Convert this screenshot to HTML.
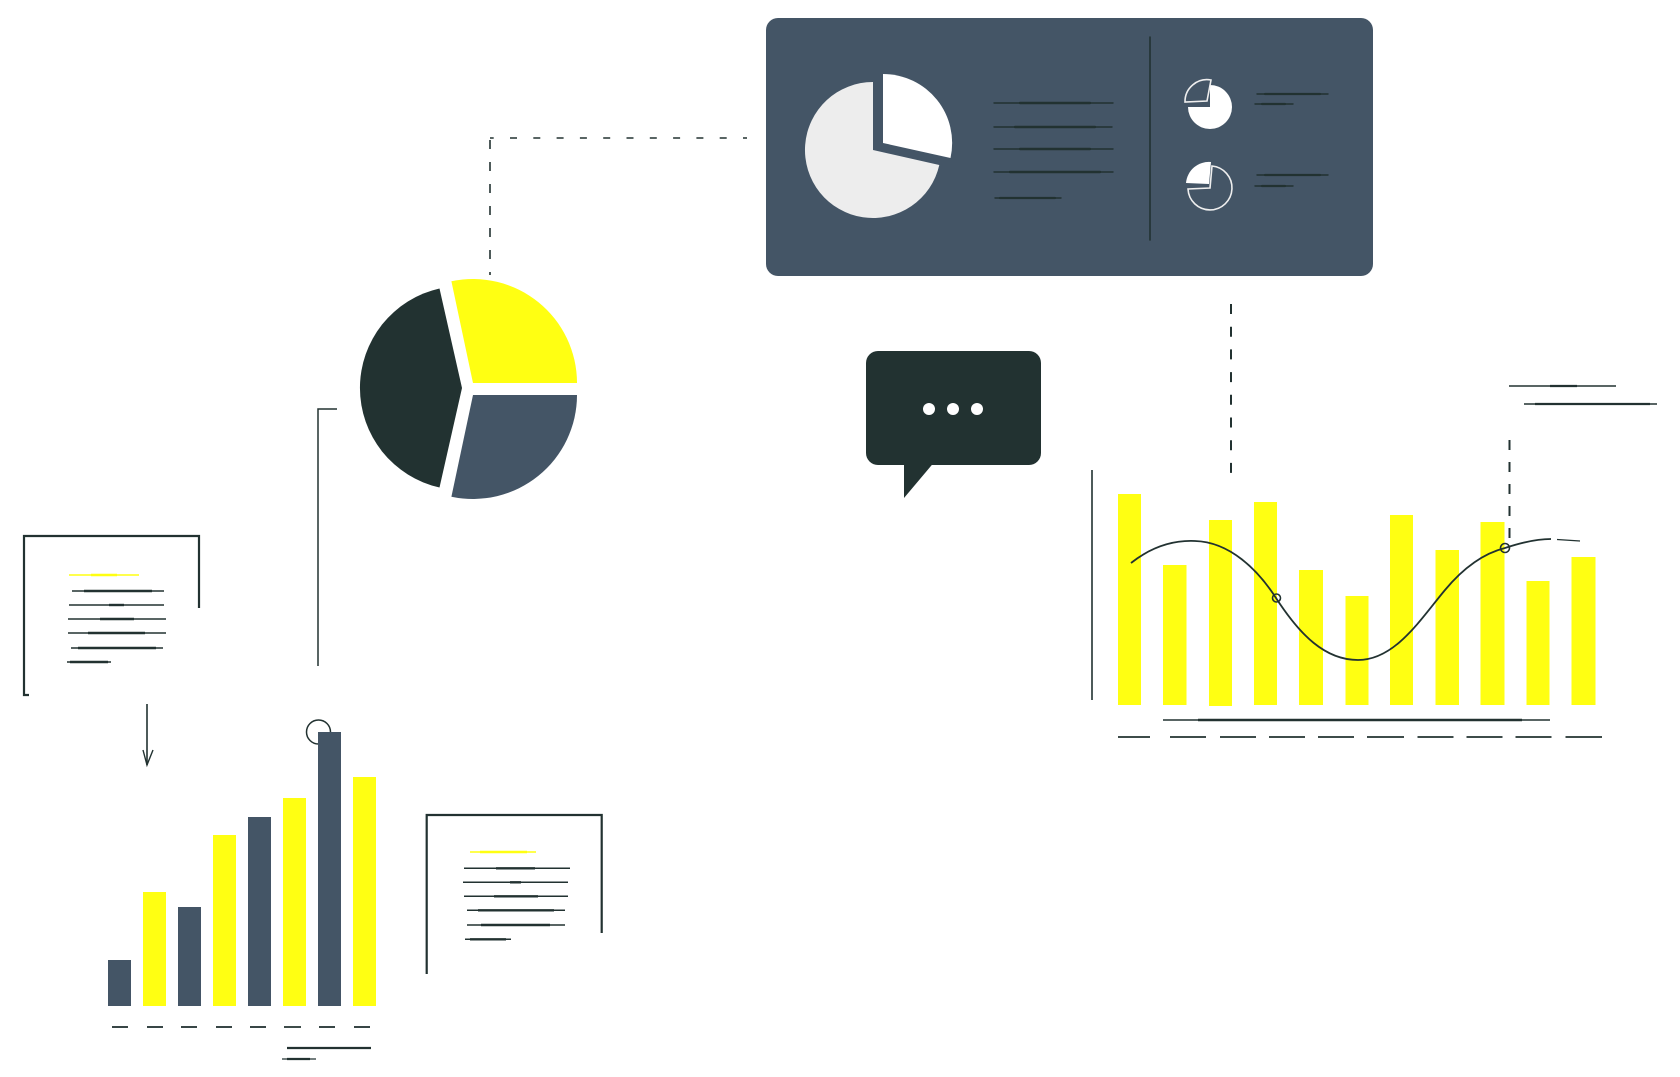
<!DOCTYPE html>
<html><head><meta charset="utf-8"><style>
html,body{margin:0;padding:0;background:#fff;}
svg{display:block;}
</style></head><body>
<svg width="1680" height="1077" viewBox="0 0 1680 1077" xmlns="http://www.w3.org/2000/svg">
<rect width="1680" height="1077" fill="#fff"/>
<g stroke="#223231" fill="none" stroke-width="1.6">
  <!-- dashed connectors top -->
  <line x1="490" y1="138" x2="747" y2="138" stroke-dasharray="7 16.3" stroke-dashoffset="3.3"/>
  <line x1="490" y1="140" x2="490" y2="275" stroke-dasharray="9 13"/>
  <line x1="1231" y1="304" x2="1231" y2="474" stroke-dasharray="10 12.7" stroke-width="2"/>
  <line x1="1509.5" y1="440" x2="1509.5" y2="543" stroke-dasharray="10 12" stroke-width="2"/>
  <!-- solid L connector -->
  <polyline points="337,409 318,409 318,666" stroke-width="1.5"/>
</g>

<!-- Top dashboard box -->
<rect x="766" y="18" width="607" height="258" rx="12" fill="#445566"/>
<path d="M873,150 L873,82 A68,68 0 1 0 939.3,165 Z" fill="#ededed"/>
<path d="M883,143 L883,74 A69,69 0 0 1 950.5,158 Z" fill="#ffffff"/>
<g stroke="#223231" stroke-linecap="round">
  <line x1="994" y1="103" x2="1113" y2="103" stroke-width="1.4"/><line x1="1020" y1="103" x2="1090" y2="103" stroke-width="2.4"/>
  <line x1="994" y1="127" x2="1112" y2="127" stroke-width="1.4"/><line x1="1015" y1="127" x2="1095" y2="127" stroke-width="2.4"/>
  <line x1="994" y1="149" x2="1113" y2="149" stroke-width="1.4"/><line x1="1020" y1="149" x2="1090" y2="149" stroke-width="2.4"/>
  <line x1="994" y1="172" x2="1113" y2="172" stroke-width="1.4"/><line x1="1010" y1="172" x2="1100" y2="172" stroke-width="2.4"/>
  <line x1="995" y1="198" x2="1061" y2="198" stroke-width="1.4"/><line x1="1000" y1="198" x2="1055" y2="198" stroke-width="2.2"/>
  <line x1="1150" y1="37" x2="1150" y2="240" stroke-width="1.6"/>
  <line x1="1257" y1="94" x2="1328" y2="94" stroke-width="1.4"/><line x1="1265" y1="94" x2="1320" y2="94" stroke-width="2.2"/>
  <line x1="1255" y1="104" x2="1293" y2="104" stroke-width="1.4"/><line x1="1262" y1="104" x2="1285" y2="104" stroke-width="2.2"/>
  <line x1="1257" y1="175" x2="1328" y2="175" stroke-width="1.4"/><line x1="1265" y1="175" x2="1320" y2="175" stroke-width="2.2"/>
  <line x1="1255" y1="186" x2="1293" y2="186" stroke-width="1.4"/><line x1="1262" y1="186" x2="1285" y2="186" stroke-width="2.2"/>
</g>
<path d="M1210,107 L1210,85 A22,22 0 1 1 1188,107 Z" fill="#fff"/>
<path d="M1207,101 L1211,80 A22,22 0 0 0 1185,102 Z" fill="none" stroke="#eee" stroke-width="1.6"/>
<path d="M1210,188 L1212,166 A22,22 0 1 1 1188,189 Z" fill="none" stroke="#eee" stroke-width="1.6"/>
<path d="M1209,184 L1211,162 A23,23 0 0 0 1186,183 Z" fill="#fff"/>

<!-- Big pie -->
<path d="M473,383 L577,383 A104,104 0 0 0 451.4,281.3 Z" fill="#ffff12"/>
<path d="M473,395 L577,395 A104,104 0 0 1 451.4,496.7 Z" fill="#445566"/>
<path d="M462,388 L439.5,288.5 A102,102 0 0 0 439.5,487.5 Z" fill="#223231"/>

<!-- Speech bubble -->
<rect x="866" y="351" width="175" height="114" rx="12" fill="#223231"/>
<polygon points="904,460 904,498 936,460" fill="#223231"/>
<circle cx="929" cy="409" r="6" fill="#fff"/>
<circle cx="953" cy="409" r="6" fill="#fff"/>
<circle cx="977" cy="409" r="6" fill="#fff"/>

<!-- Right bar chart -->
<g fill="#ffff12">
  <rect x="1118" y="494" width="23" height="211"/>
  <rect x="1163" y="565" width="23.5" height="140"/>
  <rect x="1209" y="520" width="23" height="186"/>
  <rect x="1254" y="502" width="23" height="203"/>
  <rect x="1299" y="570" width="24" height="135"/>
  <rect x="1345.5" y="596" width="23" height="109"/>
  <rect x="1390" y="515" width="23" height="190"/>
  <rect x="1435.5" y="550" width="23.5" height="155"/>
  <rect x="1480.5" y="522" width="24" height="183"/>
  <rect x="1526.5" y="581" width="23" height="124"/>
  <rect x="1571.5" y="557" width="24" height="148"/>
</g>
<g stroke="#223231" fill="none">
  <line x1="1092" y1="470" x2="1092" y2="700" stroke-width="1.6"/>
  <path d="M1131,563 C1150,548 1172,540 1195,541 C1230,542 1258,570 1276,598 C1300,635 1325,660 1358,660 C1395,660 1420,620 1445,590 C1465,566 1485,553 1505,548 C1520,543 1535,539 1551,539" stroke-width="1.8"/>
  <line x1="1557" y1="539.5" x2="1580" y2="541" stroke-width="1.2"/>
  <circle cx="1276.5" cy="598" r="4" stroke-width="1.6"/>
  <circle cx="1505" cy="548" r="4.5" stroke-width="1.6"/>
  <line x1="1509" y1="386" x2="1616" y2="386" stroke-width="1.4"/><line x1="1550" y1="386" x2="1577" y2="386" stroke-width="2.2"/>
  <line x1="1524" y1="404" x2="1657" y2="404" stroke-width="1.4"/><line x1="1535" y1="404" x2="1650" y2="404" stroke-width="2.2"/>
  <line x1="1163" y1="720" x2="1550" y2="720" stroke-width="1.4"/><line x1="1198" y1="720" x2="1522" y2="720" stroke-width="2.4"/>
  <g stroke-width="1.8">
    <line x1="1118" y1="737" x2="1150" y2="737"/>
    <line x1="1170" y1="737" x2="1206" y2="737"/>
    <line x1="1220" y1="737" x2="1256" y2="737"/>
    <line x1="1269" y1="737" x2="1305" y2="737"/>
    <line x1="1318" y1="737" x2="1354" y2="737"/>
    <line x1="1367" y1="737" x2="1404" y2="737"/>
    <line x1="1417.5" y1="737" x2="1453.5" y2="737"/>
    <line x1="1466.5" y1="737" x2="1502.5" y2="737"/>
    <line x1="1515.5" y1="737" x2="1551.5" y2="737"/>
    <line x1="1565.5" y1="737" x2="1602" y2="737"/>
  </g>
</g>

<!-- Document 1 -->
<g stroke="#223231" fill="none">
  <polyline points="29,695 24,695 24,536 199,536 199,608" stroke-width="2.2"/>
  <line x1="69" y1="575" x2="139" y2="575" stroke="#ffff12" stroke-width="1.5"/><line x1="91" y1="575" x2="117" y2="575" stroke="#ffff12" stroke-width="2.6"/>
  <line x1="72" y1="591" x2="164" y2="591" stroke-width="1.5"/><line x1="84" y1="591" x2="152" y2="591" stroke-width="2.4"/>
  <line x1="69" y1="605" x2="164" y2="605" stroke-width="1.5"/><line x1="109" y1="605" x2="124" y2="605" stroke-width="2.4"/>
  <line x1="68" y1="619" x2="166" y2="619" stroke-width="1.5"/><line x1="100" y1="619" x2="134" y2="619" stroke-width="2.4"/>
  <line x1="68" y1="633" x2="166" y2="633" stroke-width="1.5"/><line x1="88" y1="633" x2="145" y2="633" stroke-width="2.4"/>
  <line x1="71" y1="648" x2="163" y2="648" stroke-width="1.5"/><line x1="78" y1="648" x2="156" y2="648" stroke-width="2.4"/>
  <line x1="67" y1="662" x2="111" y2="662" stroke-width="1.5"/><line x1="70" y1="662" x2="108" y2="662" stroke-width="2.4"/>
  <!-- arrow -->
  <line x1="147" y1="704" x2="147" y2="765" stroke-width="1.6"/>
  <polyline points="143,750 147,765 153,750" stroke-width="1.4"/>
  <circle cx="318.5" cy="732" r="12" stroke-width="1.5"/>
</g>

<!-- Bottom-left bar chart -->
<g>
  <rect x="108" y="960" width="23" height="46" fill="#445566"/>
  <rect x="143" y="892" width="23" height="114" fill="#ffff12"/>
  <rect x="178" y="907" width="23" height="99" fill="#445566"/>
  <rect x="213" y="835" width="23" height="171" fill="#ffff12"/>
  <rect x="248" y="817" width="23" height="189" fill="#445566"/>
  <rect x="283" y="798" width="23" height="208" fill="#ffff12"/>
  <rect x="318" y="732" width="23" height="274" fill="#445566"/>
  <rect x="353" y="777" width="23" height="229" fill="#ffff12"/>
</g>
<g stroke="#223231" stroke-width="1.8">
  <line x1="112" y1="1027" x2="128" y2="1027"/>
  <line x1="147" y1="1027" x2="163" y2="1027"/>
  <line x1="181" y1="1027" x2="197" y2="1027"/>
  <line x1="216" y1="1027" x2="232" y2="1027"/>
  <line x1="250" y1="1027" x2="266" y2="1027"/>
  <line x1="284" y1="1027" x2="301" y2="1027"/>
  <line x1="319" y1="1027" x2="335" y2="1027"/>
  <line x1="354" y1="1027" x2="370" y2="1027"/>
  <line x1="287" y1="1048" x2="371" y2="1048" stroke-width="2.2"/>
  <line x1="282" y1="1059" x2="316" y2="1059" stroke-width="1.2"/>
  <line x1="287" y1="1059" x2="310" y2="1059" stroke-width="2.2"/>
</g>

<!-- Document 2 -->
<g stroke="#223231" fill="none">
  <polyline points="426.7,974 426.7,815 601.7,815 601.7,933" stroke-width="2.2"/>
  <line x1="470" y1="852" x2="536" y2="852" stroke="#ffff12" stroke-width="1.5"/><line x1="480" y1="852" x2="527" y2="852" stroke="#ffff12" stroke-width="2.6"/>
  <line x1="464" y1="868.3" x2="570" y2="868.3" stroke-width="1.5"/><line x1="496" y1="868.3" x2="535" y2="868.3" stroke-width="2.4"/>
  <line x1="463" y1="882.3" x2="568" y2="882.3" stroke-width="1.5"/><line x1="510" y1="882.3" x2="521" y2="882.3" stroke-width="2.4"/>
  <line x1="464" y1="896.3" x2="568" y2="896.3" stroke-width="1.5"/><line x1="494" y1="896.3" x2="538" y2="896.3" stroke-width="2.4"/>
  <line x1="467" y1="910.3" x2="565" y2="910.3" stroke-width="1.5"/><line x1="478" y1="910.3" x2="554" y2="910.3" stroke-width="2.4"/>
  <line x1="467" y1="925" x2="565" y2="925" stroke-width="1.5"/><line x1="481" y1="925" x2="550" y2="925" stroke-width="2.4"/>
  <line x1="465" y1="939.3" x2="511" y2="939.3" stroke-width="1.5"/><line x1="470" y1="939.3" x2="506" y2="939.3" stroke-width="2.4"/>
</g>
</svg>
</body></html>
